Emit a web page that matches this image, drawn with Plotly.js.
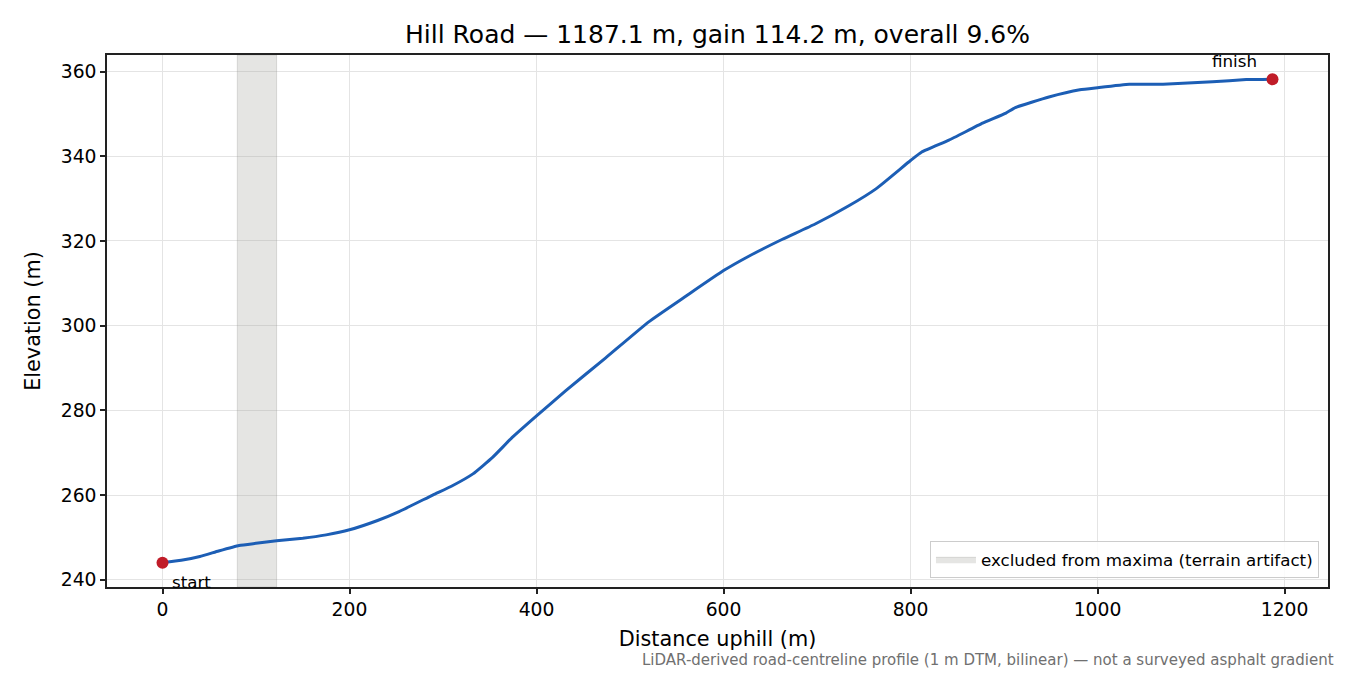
<!DOCTYPE html>
<html>
<head>
<meta charset="utf-8">
<script src="https://cdn.plot.ly/plotly-3.0.1.min.js"></script>
<style>
  html, body { margin: 0; padding: 0; background: #fff; }
  #chart { width: 1350px; height: 675px; }
</style>
</head>
<body>
<div id="chart"></div>
<script>
// profile (distance along road, elevation)
var distanceM = [0, 20, 40, 60, 82, 100, 122, 150, 175, 200, 230, 253, 289, 310, 332, 353, 374, 400,
  431, 474, 520, 560, 600, 627, 663, 698, 734, 763, 800, 812, 841, 877, 902, 912, 948, 981, 1000,
  1034, 1070, 1123, 1159, 1187.1];
var elevationM = [244.0, 244.6, 245.5, 246.8, 248.1, 248.6, 249.2, 249.8, 250.6, 251.8, 254.0, 256.1,
  260.0, 262.2, 265.0, 268.9, 273.6, 278.7, 284.6, 292.4, 300.9, 307.0, 313.0, 316.4, 320.4,
  324.0, 328.3, 332.3, 339.0, 341.0, 343.8, 347.8, 350.2, 351.5, 354.0, 355.7, 356.2, 357.0,
  357.0, 357.6, 358.1, 358.2];

var endpointX = [0, 1187.1];
var endpointY = [244.0, 358.2];
var endpointLabels = ['start', 'finish'];

// excluded stretch
var bandStart = 80;
var bandEnd = 122;

var xTicks = [0, 200, 400, 600, 800, 1000, 1200];
var yTicks = [240, 260, 280, 300, 320, 340, 360];

// matplotlib-style 5% margins
var xPad = 0.05 * (distanceM[distanceM.length - 1] - distanceM[0]);
var yMin = Math.min.apply(null, elevationM), yMax = Math.max.apply(null, elevationM);
var yPad = 0.05 * (yMax - yMin);
var xRange = [distanceM[0] - xPad, distanceM[distanceM.length - 1] + xPad];
var yRange = [yMin - yPad, yMax + yPad];

var font = 'DejaVu Sans, sans-serif';

var bandTrace = {
  x: [bandStart, bandEnd, bandEnd, bandStart, bandStart],
  y: [yRange[0], yRange[0], yRange[1], yRange[1], yRange[0]],
  type: 'scatter',
  mode: 'lines',
  fill: 'toself',
  fillcolor: 'rgba(150,150,145,0.25)',
  line: {color: 'rgba(150,150,145,0.3)', width: 1},
  name: 'excluded from maxima (terrain artifact)',
  hoverinfo: 'skip'
};

var profileTrace = {
  x: distanceM,
  y: elevationM,
  type: 'scatter',
  mode: 'lines',
  line: {color: '#1c5eb5', width: 3, shape: 'spline', smoothing: 0.4},
  showlegend: false
};

var endTrace = {
  x: endpointX,
  y: endpointY,
  type: 'scatter',
  mode: 'markers',
  marker: {color: '#c01c28', size: 12},
  showlegend: false
};

var layout = {
  width: 1350,
  height: 675,
  paper_bgcolor: '#ffffff',
  plot_bgcolor: '#ffffff',
  margin: {l: 107, r: 22, t: 55, b: 88},
  font: {family: font, color: '#000', size: 18.75},
  title: {
    text: 'Hill Road — 1187.1 m, gain 114.2 m, overall 9.6%',
    font: {family: font, size: 25, color: '#000'},
    x: 0.5, xref: 'paper', xanchor: 'center',
    y: 1 - 34 / 675, yref: 'container', yanchor: 'middle'
  },
  xaxis: {
    range: xRange,
    tickvals: xTicks,
    ticktext: xTicks.map(String),
    ticks: 'outside', ticklen: 5, tickwidth: 1.5, tickcolor: '#222',
    showline: true, mirror: true, linecolor: '#222', linewidth: 1.5,
    showgrid: true, gridcolor: '#e4e4e4', gridwidth: 1.2,
    zeroline: false,
    tickfont: {size: 18.75},
    title: {text: 'Distance uphill (m)', font: {size: 20.8}, standoff: 12}
  },
  yaxis: {
    range: yRange,
    tickvals: yTicks,
    ticktext: yTicks.map(String),
    ticks: 'outside', ticklen: 5, tickwidth: 1.5, tickcolor: '#222',
    showline: true, mirror: true, linecolor: '#222', linewidth: 1.5,
    showgrid: true, gridcolor: '#e4e4e4', gridwidth: 1.2,
    zeroline: false,
    tickfont: {size: 18.75},
    title: {text: 'Elevation (m)', font: {size: 20.8}, standoff: 14}
  },
  legend: {
    x: 0.9926, y: 0.017, xanchor: 'right', yanchor: 'bottom',
    bgcolor: 'rgba(255,255,255,0.85)',
    bordercolor: '#cccccc', borderwidth: 1,
    itemwidth: 40,
    font: {size: 16.7}
  },
  showlegend: true,
  annotations: [
    {
      x: endpointX[0], y: endpointY[0], xref: 'x', yref: 'y',
      text: endpointLabels[0], showarrow: false,
      xanchor: 'left', yanchor: 'middle', xshift: 7, yshift: -19,
      font: {size: 16.7}
    },
    {
      x: endpointX[1], y: endpointY[1], xref: 'x', yref: 'y',
      text: endpointLabels[1], showarrow: false,
      xanchor: 'right', yanchor: 'middle', xshift: -14, yshift: 18,
      font: {size: 16.7}
    },
    {
      x: 1.0066, y: -0.137, xref: 'paper', yref: 'paper',
      text: 'LiDAR-derived road-centreline profile (1 m DTM, bilinear) — not a surveyed asphalt gradient',
      showarrow: false, xanchor: 'right', yanchor: 'middle',
      font: {size: 15, color: '#707070'}
    }
  ]
};

Plotly.newPlot('chart', [bandTrace, profileTrace, endTrace], layout, {displayModeBar: false, displaylogo: false});
</script>
</body>
</html>
